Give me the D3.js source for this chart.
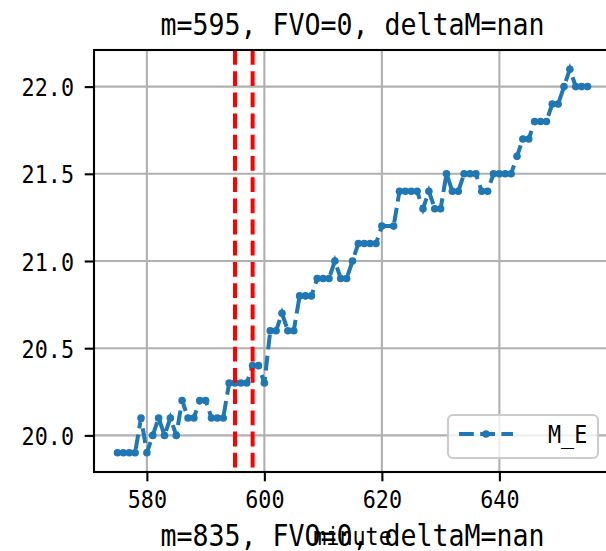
<!DOCTYPE html>
<html>
<head>
<meta charset="utf-8">
<script src="https://cdn.jsdelivr.net/npm/d3@7"></script>
<style>
  html, body { margin: 0; padding: 0; background: #fff; }
  svg { display: block; }
</style>
</head>
<body>
<div id="chart"></div>
<script>
// ---- data ----
const minutes = [575,576,577,578,579,580,581,582,583,584,585,586,587,588,589,590,591,592,593,594,595,596,597,598,599,600,
  601,602,603,604,605,606,607,608,609,610,611,612,613,614,615,616,617,618,619,620,622,623,624,625,626,627,628,629,630,
  631,632,633,634,635,636,637,638,639,640,641,642,643,644,645,646,647,648,649,650,651,652,653,654,655];
const mE = [19.9,19.9,19.9,19.9,20.1,19.9,20.0,20.1,20.0,20.1,20.0,20.2,20.1,20.1,20.2,20.2,20.1,20.1,20.1,20.3,20.3,20.3,20.3,20.4,20.4,20.3,
  20.6,20.6,20.7,20.6,20.6,20.8,20.8,20.8,20.9,20.9,20.9,21.0,20.9,20.9,21.0,21.1,21.1,21.1,21.1,21.2,21.2,21.4,21.4,21.4,21.4,21.3,21.4,21.3,21.3,
  21.5,21.4,21.4,21.5,21.5,21.5,21.4,21.4,21.5,21.5,21.5,21.5,21.6,21.7,21.7,21.8,21.8,21.8,21.9,21.9,22.0,22.1,22.0,22.0,22.0];
const vLines = [595, 598];
const xTicks = [580, 600, 620, 640];
const yTicks = [20.0, 20.5, 21.0, 21.5, 22.0];
const titleText = "m=595, FVO=0, deltaM=nan";
const nextTitleText = "m=835, FVO=0, deltaM=nan";
const xLabel = "minute";
const legendLabel = "M_E";

// ---- layout ----
const W = 606, H = 551;
const pL = 94, pR = 611, pT = 50, pB = 472;
const FONT = "'DejaVu Sans Mono', monospace";
const tickFs = 25, tickCW = 13.1;
const titleFs = 30, titleCW = 16;
const blue = "#1f77b4";

const svg = d3.select("#chart").append("svg").attr("width", W).attr("height", H);
svg.append("rect").attr("width", W).attr("height", H).attr("fill", "#fff");

const xExt = d3.extent(minutes), yExt = d3.extent(mE);
const xm = (xExt[1] - xExt[0]) * 0.05, ym = (yExt[1] - yExt[0]) * 0.05;
const x = d3.scaleLinear().domain([xExt[0] - xm, xExt[1] + xm]).range([pL, pR]);
const y = d3.scaleLinear().domain([yExt[0] - ym, yExt[1] + ym]).range([pB, pT]);

function fitText(sel, cw) {
  sel.each(function() {
    const s = d3.select(this).text();
    d3.select(this).attr("textLength", s.length * cw).attr("lengthAdjust", "spacingAndGlyphs");
  });
}

// grid
const grid = svg.append("g").attr("stroke", "#b0b0b0").attr("stroke-width", 2.1);
grid.selectAll(".gx").data(xTicks).join("line")
  .attr("x1", d => x(d)).attr("x2", d => x(d)).attr("y1", pT).attr("y2", pB);
grid.selectAll(".gy").data(yTicks).join("line")
  .attr("x1", pL).attr("x2", pR).attr("y1", d => y(d)).attr("y2", d => y(d));

// axes
const xAxis = svg.append("g").attr("transform", `translate(0,${pB})`)
  .call(d3.axisBottom(x).tickValues(xTicks).tickSize(9.3).tickFormat(d3.format("d")));
const yAxis = svg.append("g").attr("transform", `translate(${pL},0)`)
  .call(d3.axisLeft(y).tickValues(yTicks).tickSize(9.3).tickFormat(d3.format(".1f")));
[xAxis, yAxis].forEach(a => {
  a.select(".domain").remove();
  a.selectAll(".tick line").attr("stroke", "#000").attr("stroke-width", 2.1);
  a.selectAll(".tick text").attr("fill", "#000").style("font-family", FONT).style("font-size", tickFs + "px");
});
xAxis.selectAll(".tick text").attr("y", 36).attr("dy", null);
yAxis.selectAll(".tick text").attr("x", -20).attr("dy", "9");
fitText(xAxis.selectAll(".tick text"), tickCW);
fitText(yAxis.selectAll(".tick text"), tickCW);

// data line
const line = d3.line().x((d, i) => x(minutes[i])).y(d => y(d));
svg.append("path").datum(mE).attr("d", line)
  .attr("fill", "none").attr("stroke", blue).attr("stroke-width", 4)
  .attr("stroke-dasharray", "14.8,6.4");
svg.append("g").selectAll("circle").data(mE).join("circle")
  .attr("cx", (d, i) => x(minutes[i])).attr("cy", d => y(d)).attr("r", 3.8).attr("fill", blue);

// red vertical lines
svg.append("g").selectAll("line").data(vLines).join("line")
  .attr("x1", d => x(d)).attr("x2", d => x(d)).attr("y1", pT).attr("y2", pB)
  .attr("stroke", "red").attr("stroke-width", 4).attr("stroke-dasharray", "14.8,6.4");

// spines
const sp = svg.append("g").attr("stroke", "#000").attr("stroke-width", 2.1).attr("fill", "none");
sp.append("rect").attr("x", pL).attr("y", pT).attr("width", pR - pL).attr("height", pB - pT);

// legend
const lg = svg.append("g");
lg.append("rect").attr("x", 448).attr("y", 415).attr("width", 150).attr("height", 43)
  .attr("rx", 5).attr("fill", "rgba(255,255,255,0.8)").attr("stroke", "#cccccc").attr("stroke-width", 2.1);
lg.append("line").attr("x1", 459).attr("x2", 513).attr("y1", 434).attr("y2", 434)
  .attr("stroke", blue).attr("stroke-width", 4).attr("stroke-dasharray", "14.8,6.4");
lg.append("circle").attr("cx", 486).attr("cy", 434).attr("r", 3.8).attr("fill", blue);
lg.append("text").attr("x", 548).attr("y", 443).text(legendLabel)
  .style("font-family", FONT).style("font-size", tickFs + "px").attr("fill", "#000")
  .call(fitText, tickCW);

// titles
svg.append("text").attr("x", (pL + pR) / 2).attr("y", 35).attr("text-anchor", "middle")
  .text(titleText).style("font-family", FONT).style("font-size", titleFs + "px").attr("fill", "#000")
  .call(fitText, titleCW);
svg.append("text").attr("x", (pL + pR) / 2).attr("y", 545).attr("text-anchor", "middle")
  .text(xLabel).style("font-family", FONT).style("font-size", tickFs + "px").attr("fill", "#000")
  .call(fitText, tickCW);
svg.append("text").attr("x", (pL + pR) / 2).attr("y", 546).attr("text-anchor", "middle")
  .text(nextTitleText).style("font-family", FONT).style("font-size", titleFs + "px").attr("fill", "#000")
  .call(fitText, titleCW);
</script>
</body>
</html>
